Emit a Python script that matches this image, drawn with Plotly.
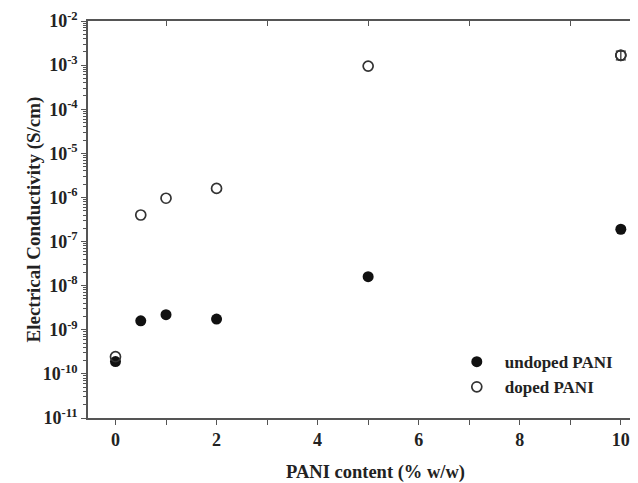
import plotly.graph_objects as go

pani_content = [0, 0.5, 1, 2, 5, 10]
undoped = [1.9e-10, 1.6e-9, 2.2e-9, 1.75e-9, 1.6e-8, 1.9e-7]
doped = [2.45e-10, 4.0e-7, 9.6e-7, 1.6e-6, 9.5e-4, 1.67e-3]
doped_last_err_plus = [0.4e-3]
doped_last_err_minus = [0.35e-3]

y_tick_exps = [-2, -3, -4, -5, -6, -7, -8, -9, -10, -11]
x_major_ticks = [0, 2, 4, 6, 8, 10]
x_top_ticks = [1, 3, 5, 7, 9]

FONT = "Liberation Serif"
AX = "#555555"
TXT = "#222222"

yvals = [10.0 ** e for e in y_tick_exps]
ytext = [f"<b>10<sup>{e}</sup></b>" for e in y_tick_exps]
yminor = [m * 10.0 ** e for e in range(-11, -2) for m in range(2, 10)]

fig = go.Figure()
fig.add_trace(go.Scatter(
    x=pani_content, y=undoped, mode="markers", name="<b>undoped PANI</b>",
    marker=dict(symbol="circle", size=11, color="#111111", line=dict(width=0)),
))
fig.add_trace(go.Scatter(
    x=pani_content, y=doped, mode="markers", name="<b>doped PANI</b>",
    marker=dict(symbol="circle-open", size=10, color="#333333", line=dict(width=1.7)),
))
# error bar on the last doped point only
fig.add_trace(go.Scatter(
    x=pani_content[-1:], y=doped[-1:], mode="markers", showlegend=False,
    marker=dict(symbol="circle-open", size=10, color="#333333", line=dict(width=1.7)),
    error_y=dict(type="data", array=doped_last_err_plus, arrayminus=doped_last_err_minus,
                 visible=True, color="#333333", thickness=1.3, width=5),
    hoverinfo="skip",
))
# invisible trace to carry the top axis
fig.add_trace(go.Scatter(
    x=pani_content, y=undoped, xaxis="x2", mode="markers",
    marker=dict(opacity=0), showlegend=False, hoverinfo="skip",
))

xr = [-0.544, 10.34]
fig.update_layout(
    width=630, height=475,
    margin=dict(l=80, r=0, t=13, b=65),
    paper_bgcolor="white", plot_bgcolor="white",
    font=dict(family=FONT, color=TXT, size=17),
    showlegend=True,
    legend=dict(x=0.656, y=0.186, xanchor="left", yanchor="top",
                bgcolor="rgba(0,0,0,0)", font=dict(family=FONT, size=17, color=TXT),
                itemwidth=46, tracegroupgap=0),
    xaxis=dict(
        range=xr, tickvals=x_major_ticks,
        ticktext=[f"<b>{v}</b>" for v in x_major_ticks],
        ticks="outside", ticklen=5, tickwidth=1.2, tickcolor=AX,
        minor=dict(tickvals=x_top_ticks, ticks="outside", ticklen=5, tickcolor=AX),
        showline=True, linecolor=AX, linewidth=1.5,
        showgrid=False, zeroline=False, automargin=False,
        tickfont=dict(family=FONT, size=18, color=TXT),
    ),
    xaxis2=dict(
        range=xr, overlaying="x", side="top", anchor="y",
        tickvals=x_top_ticks, ticks="inside", ticklen=5, tickcolor=AX,
        showticklabels=False, showline=True, linecolor=AX, linewidth=1.5,
        showgrid=False, zeroline=False, automargin=False,
    ),
    yaxis=dict(
        type="log", range=[-11, -2],
        tickvals=yvals, ticktext=ytext,
        ticks="outside", ticklen=5, tickwidth=1.2, tickcolor=AX,
        minor=dict(tickvals=yminor, ticks="outside", ticklen=3, tickcolor=AX),
        showline=True, linecolor=AX, linewidth=1.5,
        showgrid=False, zeroline=False, automargin=False,
        tickfont=dict(family=FONT, size=18, color=TXT),
    ),
    annotations=[
        dict(text="<b>PANI content (% w/w)</b>", xref="paper", yref="paper",
             x=0.522, y=0, yshift=-54, xanchor="center", yanchor="middle",
             showarrow=False, font=dict(family=FONT, size=18.5, color=TXT)),
        dict(text="<b>Electrical Conductivity (S/cm)</b>", xref="paper", yref="paper",
             x=0, y=0.5, xshift=-55, xanchor="center", yanchor="middle", textangle=-90,
             showarrow=False, font=dict(family=FONT, size=19, color=TXT)),
    ],
)

fig.write_html("out.html")
